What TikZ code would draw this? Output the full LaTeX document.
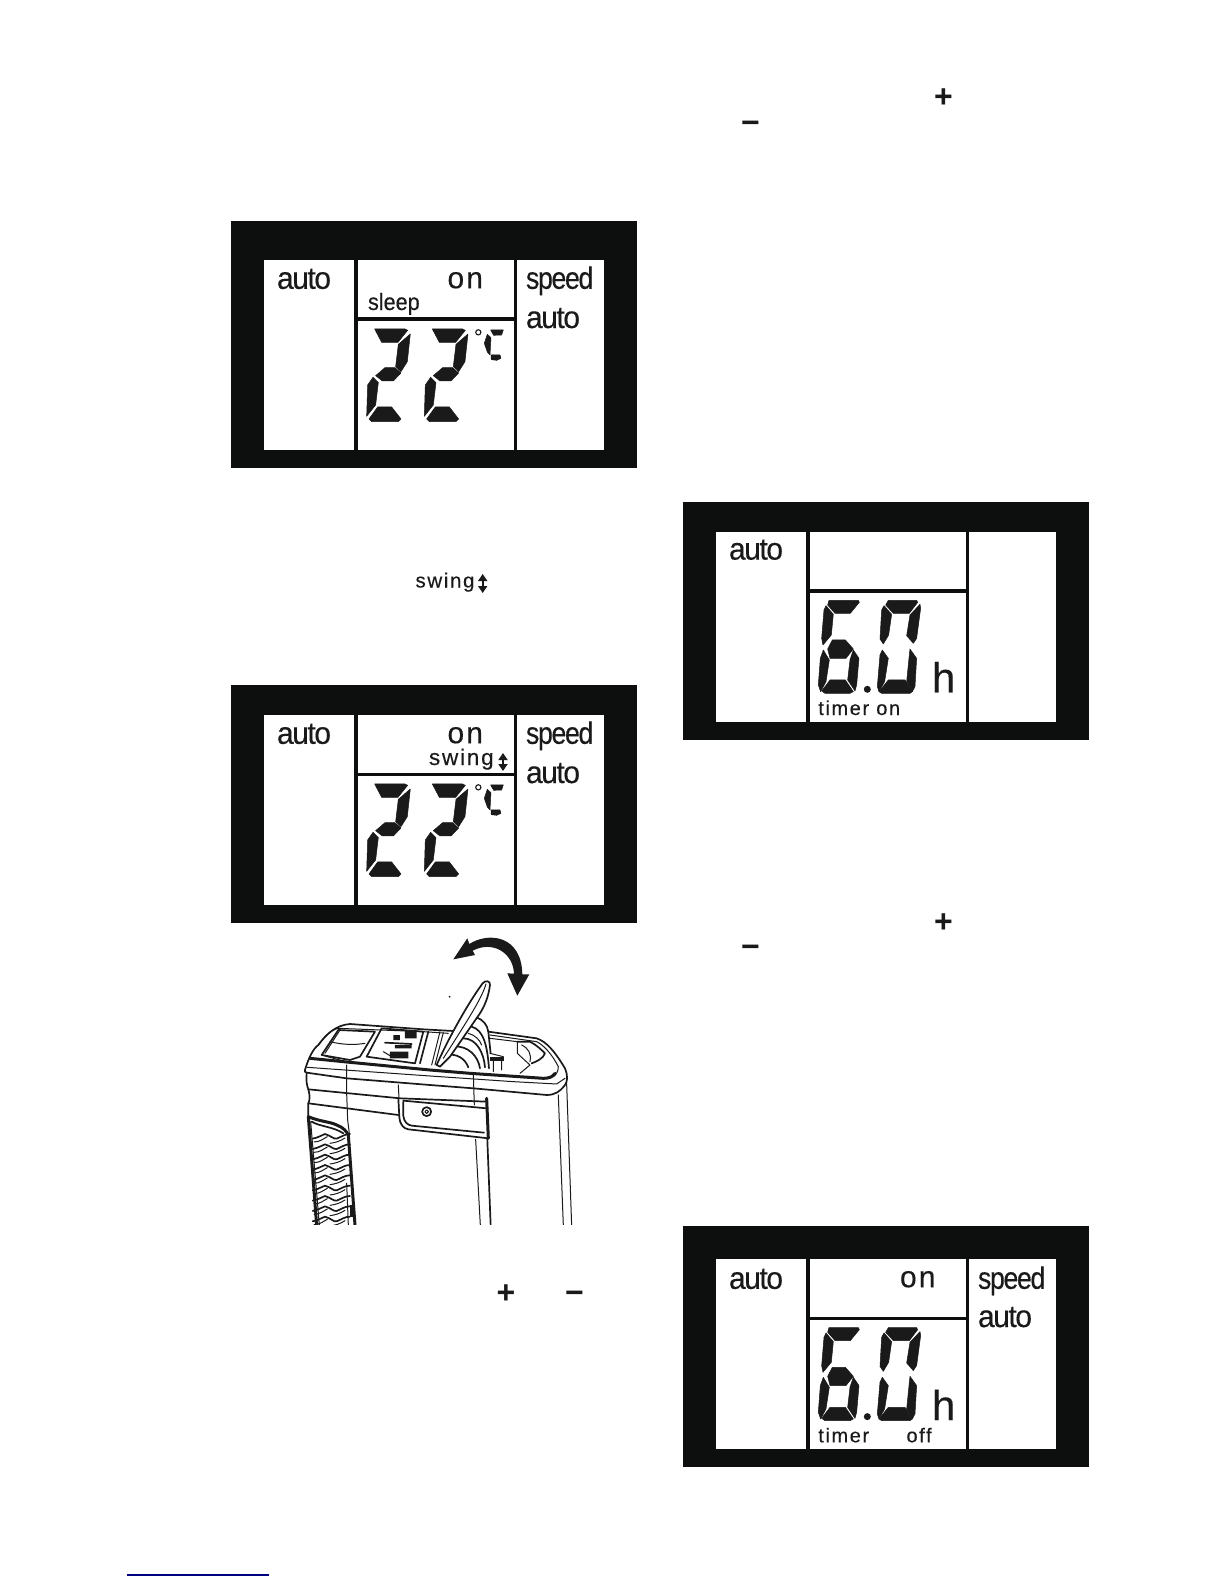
\documentclass[tikz,border=0pt]{standalone}
\usepackage{fontspec}
\usepackage{graphicx}
\usetikzlibrary{arrows.meta}
\setmainfont[FakeBold=0.35]{Liberation Sans}
\newfontfamily\tightfont[FakeBold=0.35,LetterSpace=-5]{Liberation Sans}
\newfontfamily\onfont[FakeBold=0.35,LetterSpace=7]{Liberation Sans}
\newfontfamily\lspfont[FakeBold=0.25,LetterSpace=8]{Liberation Sans}
\newfontfamily\bmark{Liberation Sans}[BoldFont={Liberation Sans Bold}]
\definecolor{lcdblack}{HTML}{0D0F0F}
\definecolor{inkc}{HTML}{1A1A1A}
\tikzset{
  seg/.style={fill=inkc,draw=inkc,line width=0.5pt,line join=round},
  lab/.style={anchor=base west,inner sep=0pt,outer sep=0pt,text=inkc},
  sym/.style={anchor=base,inner sep=0pt,outer sep=0pt,text=inkc},
  thinl/.style={draw=inkc,line width=1pt},
  thickl/.style={draw=inkc,line width=1.7pt},
  hvy/.style={draw=inkc,line width=3pt},
}
\newcommand{\lcdpanel}[7]{%
  \fill[lcdblack] (231+#3,#1) rectangle (637+#3,#2);
  \fill[white] (264+#3,#4) rectangle (354+#3,#5);
  \fill[white] (358+#3,#4) rectangle (514+#3,#6);
  \fill[white] (358+#3,#7) rectangle (514+#3,#5);
  \fill[white] (517+#3,#4) rectangle (604+#3,#5);
}
\newcommand{\lcdtext}[6]{\node[lab] (#1) at (#2,#3) {\fontsize{#4}{#4}\selectfont\scalebox{#5}[1]{#6}};}
\newcommand{\tighttext}[6]{\node[lab] (#1) at (#2,#3) {\fontsize{#4}{#4}\selectfont\tightfont\scalebox{#5}[1]{#6}};}
\newcommand{\ontext}[3]{\node[lab] (#1) at (#2,#3) {\fontsize{30}{30}\selectfont\onfont on};}
\newcommand{\spaced}[5]{\node[lab] (#1) at (#2,#3) {\fontsize{#4}{#4}\selectfont\lspfont #5};}
\newcommand{\updown}[3]{\draw[inkc,line width=2pt,{Triangle[length=7pt,width=9pt]}-{Triangle[length=7pt,width=9pt]}] (#1,#2) -- (#1,#3);}
\newcommand{\glyph}[4]{\node[sym] (#1) at (#2,#3) {\fontsize{32}{32}\selectfont\bmark\bfseries #4};}
\newcommand{\segtwo}[1]{%
  \begin{scope}[xshift=#1*0.3333pt]
  \filldraw[seg] (449,342)--(540,342)--(548,346)--(519,382)--(470,382)--cycle;
  \filldraw[seg] (556,357)--(547,440)--(528,470)--(512,455)--(520,388)--cycle;
  \filldraw[seg] (480,458)--(510,458)--(528,474)--(505,498)--(472,498)--(452,482)--cycle;
  \filldraw[seg] (444,487)--(460,503)--(452,570)--(425,604)--(428,510)--cycle;
  \filldraw[seg] (458,576)--(500,576)--(528,612)--(520,620)--(440,620)--(432,612)--cycle;
  \end{scope}}
\newcommand{\temp}[1]{%
  \begin{scope}[shift={(225,#1)},x=0.3333pt,y=-0.3333pt]
  \segtwo{0}\segtwo{173}
  \draw[inkc,line width=1.1pt] (760,352) circle (2.6pt);
  \filldraw[seg] (797,345)--(835,345)--(830,360)--(806,361)--cycle;
  \filldraw[seg] (787,358)--(798,368)--(795,420)--(787,411)--(778,385)--cycle;
  \filldraw[seg] (798,420)--(825,420)--(828,430)--(815,436)--(799,434)--cycle;
  \end{scope}}
\newcommand{\sixzero}[1]{%
  \begin{scope}[shift={(675,#1)},x=0.3333pt,y=-0.3333pt]
  \filldraw[seg] (462,316)--(550,316)--(553,322)--(526,355)--(480,355)--(458,330)--cycle;
  \filldraw[seg] (453,332)--(475,358)--(469,420)--(444,450)--(440,430)--(447,345)--cycle;
  \filldraw[seg] (472,435)--(511,435)--(535,462)--(513,490)--(465,490)--(458,462)--cycle;
  \filldraw[seg] (445,465)--(463,495)--(453,560)--(437,590)--(430,570)--(436,490)--cycle;
  \filldraw[seg] (535,465)--(552,490)--(545,570)--(540,588)--(518,555)--(525,495)--cycle;
  \filldraw[seg] (465,555)--(511,555)--(535,590)--(525,595)--(450,595)--(440,588)--cycle;
  \fill[inkc] (577,583) circle (3.5pt);
  \filldraw[seg] (640,316)--(725,316)--(728,322)--(703,355)--(655,355)--(632,330)--cycle;
  \filldraw[seg] (627,332)--(650,358)--(641,420)--(625,447)--(615,432)--(620,345)--cycle;
  \filldraw[seg] (735,328)--(737,340)--(725,430)--(715,445)--(695,422)--(705,360)--cycle;
  \filldraw[seg] (622,465)--(640,490)--(629,560)--(612,590)--(607,575)--(615,480)--cycle;
  \filldraw[seg] (705,462)--(725,490)--(720,575)--(712,590)--(695,560)--(702,490)--cycle;
  \filldraw[seg] (640,555)--(690,555)--(712,590)--(705,595)--(620,595)--(612,590)--cycle;
  \end{scope}}
\begin{document}
\begin{tikzpicture}[x=1pt,y=-1pt]
\useasboundingbox (0,0) rectangle (1224,1584);
\fill[white] (0,0) rectangle (1224,1584);

\lcdpanel{221}{468}{0}{260}{450}{317}{321}
\lcdpanel{685}{923}{0}{715}{905}{773}{776}
\lcdpanel{502}{740}{452}{532}{722}{589}{593}
\lcdpanel{1226}{1467}{452}{1259}{1449}{1317}{1320}

% panel 1
\tighttext{aOneL}{277}{288.8}{31}{0.97}{auto}
\ontext{onOne}{447.5}{288.2}
\tighttext{spOne}{526}{288.8}{31}{0.86}{speed}
\tighttext{aOneR}{526}{328}{31}{0.97}{auto}
\lcdtext{slOne}{368}{310}{23.5}{0.92}{sleep}
\temp{215}

% panel 2
\tighttext{aTwoL}{277}{743.8}{31}{0.97}{auto}
\ontext{onTwo}{447.5}{743.2}
\tighttext{spTwo}{526}{743.8}{31}{0.86}{speed}
\tighttext{aTwoR}{526}{783}{31}{0.97}{auto}
\spaced{swTwo}{429}{765}{22.5}{swing}
\updown{503}{753}{771}
\temp{670}

% panel 3
\tighttext{aThr}{729}{559.6}{31}{0.97}{auto}
\sixzero{495}
\lcdtext{hThr}{932}{692.3}{42}{1}{h}
\spaced{tiThr}{818.3}{715}{20}{timer on}

% panel 4
\tighttext{aFou}{729}{1288.8}{31}{0.97}{auto}
\ontext{onFou}{900}{1287.2}
\tighttext{spFou}{978}{1288.8}{31}{0.86}{speed}
\tighttext{aFouR}{978}{1327}{31}{0.97}{auto}
\sixzero{1222.3}
\lcdtext{hFou}{932}{1420}{42}{1}{h}
\spaced{tiFou}{818.3}{1442.3}{20}{timer}
\spaced{ofFou}{906.5}{1442.3}{20}{off}

% free swing label
\spaced{swFree}{415.5}{587.5}{20.5}{swing}
\updown{482.7}{574}{593}

% plus and minus marks
\glyph{pA}{943.5}{108}{+}
\glyph{mA}{750.5}{133}{−}
\glyph{pB}{943.5}{932.5}{+}
\glyph{mB}{750.5}{957.5}{−}
\glyph{pC}{506}{1303.5}{+}
\glyph{mC}{574.5}{1303.5}{−}

% blue rule
\draw[draw={rgb,255:red,0;green,0;blue,128},line width=1.3pt] (127,1575) -- (269,1575);

% appliance
\begin{scope}[shift={(280,930)},x=0.3333pt,y=-0.3333pt,line cap=round,line join=round]
 \begin{scope}
 \clip (0,0) rectangle (960,885);
 % swing arrow
 \fill[inkc] (520,88)--(562,25)--(568,42)
   .. controls (625,5) and (725,15) .. (727,133)--(748,133)--(712,197)--(682,130)--(702,131)
   .. controls (700,70) and (640,30) .. (578,62)--(585,75)--cycle;
 % rim outline
 \draw[thickl] (75,420) .. controls (85,385) and (100,355) .. (115,345) .. controls (140,310) and (170,285) .. (210,282) -- (430,298) -- (520,303);
 \draw[thickl] (625,305) -- (770,325) .. controls (800,335) and (825,365) .. (855,415) .. controls (865,440) and (862,455) .. (855,465) .. controls (840,485) and (825,495) .. (800,495) -- (580,475) -- (450,465) -- (200,445) -- (80,428) .. controls (74,426) and (73,424) .. (75,420);
 \draw[thinl] (115,345) .. controls (135,320) and (150,300) .. (175,295) -- (430,305) -- (505,310);
 \draw[thinl] (630,315) -- (770,335) .. controls (790,345) and (815,370) .. (835,410) .. controls (835,425) and (828,435) .. (820,440);
 % front edge of the opening
 \draw[hvy] (90,385) -- (210,397) -- (450,420) -- (570,430) -- (790,445) .. controls (805,445) and (818,442) .. (825,430);
 \draw[thinl] (82,412) -- (450,438) -- (700,455) -- (830,462) -- (855,445);
 % button
 \draw[thickl] (125,375) -- (175,300) -- (285,305) -- (240,380) -- (210,390) -- cycle;
 \draw[thinl] (150,335) .. controls (190,345) and (225,345) .. (255,340);
 \draw[thinl] (135,378) -- (205,397);
 \draw[thinl] (180,300) -- (135,370);
 % display
 \draw[thickl] (260,380) -- (305,295) -- (430,305) -- (405,400) -- cycle;
 \fill[inkc] (340,315) rectangle (360,330) (375,300) rectangle (410,325) (345,345) rectangle (395,355) (330,365) rectangle (385,385);
 \draw[thickl] (315,338) -- (395,342);
 \draw[thinl] (310,365) -- (335,380);
 \draw[thickl] (445,305) -- (420,400);
 \draw[thinl] (480,305) -- (455,405) (490,308) -- (465,405);
 % ribs behind the flap
 \draw[thickl] (500,375) .. controls (530,370) and (555,385) .. (565,412);
 \draw[thickl] (520,350) .. controls (565,345) and (595,380) .. (600,415);
 \draw[thickl] (550,325) .. controls (590,325) and (612,370) .. (615,412);
 \draw[thickl] (575,290) .. controls (612,300) and (622,350) .. (627,415);
 \draw[thickl] (590,262) .. controls (610,270) and (622,285) .. (625,305) -- (632,370);
 \draw[thinl] (565,310) .. controls (585,315) and (600,330) .. (605,345);
 % right compartment
 \draw[thinl] (630,325) -- (712,335) -- (712,370) -- (750,405) -- (720,430);
 \draw[thickl] (712,335) -- (750,335) .. controls (770,345) and (785,360) .. (795,370) .. controls (790,385) and (770,395) .. (755,400);
 \draw[thinl] (725,345) .. controls (745,355) and (755,370) .. (750,395);
 \fill[inkc] (630,382) rectangle (672,394);
 \draw[thinl] (640,390) -- (640,425) (665,390) -- (665,420) (630,370) -- (670,380);
 % flap
 \filldraw[fill=white,thickl] (470,405) .. controls (498,340) and (560,225) .. (608,160)
   .. controls (615,150) and (632,152) .. (630,165) .. controls (625,205) and (612,230) .. (600,250) -- (510,380) -- (480,410) -- cycle;
 \draw[thinl] (618,162) .. controls (605,205) and (570,260) .. (490,385);
 \fill[inkc] (509,200) circle (1pt);
 % lower band
 \draw[thickl] (85,478) -- (360,505) -- (620,515);
 \draw[thickl] (85,520) -- (355,555);
 \draw[thickl] (80,430) .. controls (78,450) and (80,465) .. (85,478) .. controls (90,495) and (90,510) .. (85,520) -- (85,560);
 \draw[thinl] (200,405) -- (200,490) -- (203,570) -- (208,610);
 \draw[thinl] (580,430) -- (583,525);
 \draw[thinl] (355,465) -- (357,505);
 % latch plate
 \draw[thickl] (355,505) -- (358,560) .. controls (360,585) and (370,595) .. (385,598) -- (625,625);
 \draw[hvy] (620,505) -- (625,625);
 \draw[thickl] (370,515) -- (370,558) .. controls (372,575) and (382,585) .. (395,587) -- (612,608);
 \draw[thickl] (370,512) -- (620,535);
 \fill[white] (440,545) circle (4.8pt);
 \draw[thickl] (440,545) circle (4.5pt);
 \draw[thinl] (440,545) circle (1.8pt);
 % legs
 \draw[thinl] (587,628) -- (601,885);
 \draw[thickl] (622,628) -- (632,885);
 \draw[thinl] (835,495) -- (850,885);
 \draw[thinl] (860,460) -- (875,885);
 % grille
 \draw[hvy] (85,560) -- (110,885);
 \draw[thinl] (92,575) -- (118,885);
 \draw[hvy] (85,560) .. controls (120,575) and (150,575) .. (170,585) .. controls (190,592) and (200,605) .. (205,615) -- (225,885);
 \draw[thickl] (95,575) .. controls (120,590) and (160,590) .. (190,610);
 \draw[thinl] (200,760) -- (205,885);
 \fill[inkc] (210,825) rectangle (225,860);
 \foreach \gy in {620,651,682,713,744,775,806,837,868}{
   \draw[thickl] (98,\gy+6) .. controls (118,\gy+2) and (125,\gy-5) .. (135,\gy-8) .. controls (155,\gy-2) and (160,\gy+8) .. (170,\gy+6) .. controls (185,\gy) and (195,\gy-8) .. (210,\gy-8);
   \draw[thinl] (102,\gy+16) .. controls (120,\gy+16) and (130,\gy+6) .. (142,\gy) (150,\gy+20) .. controls (165,\gy+18) and (180,\gy+14) .. (195,\gy+4);
 }
 \end{scope}
\end{scope}
\end{tikzpicture}
\end{document}
